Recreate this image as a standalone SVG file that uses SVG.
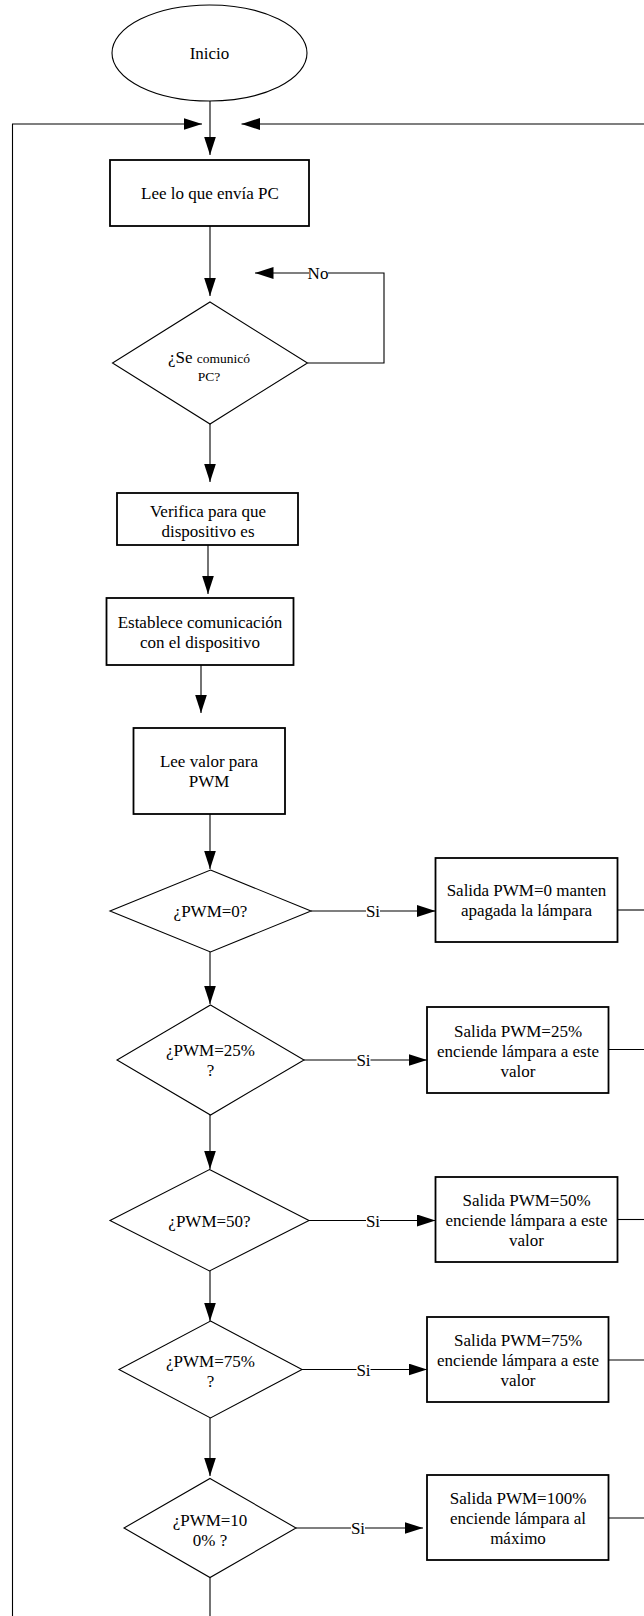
<svg xmlns="http://www.w3.org/2000/svg" width="644" height="1616" viewBox="0 0 644 1616">
<style>
  text { font-family: "Liberation Serif", "Times New Roman", serif; font-size: 17px; fill: #000; text-anchor: middle; }
  .box { fill: #fff; stroke: #000; stroke-width: 1.8; }
  .dia { fill: #fff; stroke: #000; stroke-width: 1.1; }
  .ln { fill: none; stroke: #000; stroke-width: 1.1; }
  .arr { fill: none; stroke: #000; stroke-width: 1.1; marker-end: url(#ah); }
  .lblbg { fill: #fff; stroke: none; }
  .sm { font-size: 13.5px; }
</style>
<defs>
  <marker id="ah" markerUnits="userSpaceOnUse" markerWidth="19" markerHeight="12" refX="18.5" refY="6" orient="auto">
    <path d="M0,0 L18.5,6 L0,12 Z" fill="#000"/>
  </marker>
</defs>
<rect width="644" height="1616" fill="#fff"/>

<g id="connectors">
  <line class="arr" x1="210" y1="101" x2="210" y2="155"/>
  <polyline class="arr" points="12.5,1616 12.5,124 202,124"/>
  <line class="arr" x1="644" y1="124" x2="241.5" y2="124"/>
  <line class="arr" x1="210" y1="226" x2="210" y2="296"/>
  <polyline class="arr" points="307.5,363 384,363 384,273 255,273"/>
  <rect class="lblbg" x="309" y="266" width="19" height="14"/>
  <text x="318" y="279">No</text>
  <line class="arr" x1="210" y1="424" x2="210" y2="482"/>
  <line class="arr" x1="208" y1="545" x2="208" y2="594"/>
  <line class="arr" x1="201" y1="665" x2="201" y2="713"/>
  <line class="arr" x1="210" y1="814" x2="210" y2="869"/>
  <line class="arr" x1="210" y1="952" x2="210" y2="1004"/>
  <line class="arr" x1="210" y1="1115" x2="210" y2="1169"/>
  <line class="arr" x1="210" y1="1271" x2="210" y2="1321"/>
  <line class="arr" x1="210" y1="1418" x2="210" y2="1476"/>
  <line class="ln" x1="210" y1="1577.5" x2="210" y2="1616"/>

  <line class="arr" x1="311" y1="911" x2="435.5" y2="911"/>
  <rect class="lblbg" x="366" y="904" width="14" height="14"/>
  <text x="373" y="917">Si</text>
  <line class="arr" x1="304" y1="1060" x2="427" y2="1060"/>
  <rect class="lblbg" x="356.5" y="1053" width="14" height="14"/>
  <text x="363.5" y="1066">Si</text>
  <line class="arr" x1="309" y1="1220.5" x2="435.5" y2="1220.5"/>
  <rect class="lblbg" x="366" y="1213.5" width="14" height="14"/>
  <text x="373" y="1226.5">Si</text>
  <line class="arr" x1="302" y1="1369.5" x2="427" y2="1369.5"/>
  <rect class="lblbg" x="356.5" y="1362.5" width="14" height="14"/>
  <text x="363.5" y="1375.5">Si</text>
  <line class="arr" x1="296" y1="1528" x2="423" y2="1528"/>
  <rect class="lblbg" x="351" y="1521" width="14" height="14"/>
  <text x="358" y="1534">Si</text>

  <line class="ln" x1="617.5" y1="910" x2="644" y2="910"/>
  <line class="ln" x1="608.5" y1="1049.5" x2="644" y2="1049.5"/>
  <line class="ln" x1="617.5" y1="1219.5" x2="644" y2="1219.5"/>
  <line class="ln" x1="608.5" y1="1360" x2="644" y2="1360"/>
  <line class="ln" x1="608.5" y1="1518" x2="644" y2="1518"/>
</g>

<g id="inicio">
  <ellipse class="dia" cx="209.5" cy="53" rx="97.5" ry="48"/>
  <text x="209.5" y="59">Inicio</text>
</g>

<g id="lee-pc">
  <rect class="box" x="110" y="160" width="199" height="66"/>
  <text x="210" y="199">Lee lo que envía PC</text>
</g>

<g id="se-comunico">
  <polygon class="dia" points="210,302 307.5,363 210,424 112.5,363"/>
  <text x="209" y="363">¿Se <tspan class="sm">comunicó</tspan></text>
  <text class="sm" x="209" y="381">PC?</text>
</g>

<g id="verifica">
  <rect class="box" x="117" y="493" width="181" height="52"/>
  <text x="208" y="516.5">Verifica para que</text>
  <text x="208" y="536.5">dispositivo es</text>
</g>

<g id="establece">
  <rect class="box" x="106.5" y="598" width="187" height="67"/>
  <text x="200" y="627.5">Establece comunicación</text>
  <text x="200" y="647.5">con el dispositivo</text>
</g>

<g id="lee-valor">
  <rect class="box" x="133.5" y="728" width="151.5" height="86"/>
  <text x="209" y="767">Lee valor para</text>
  <text x="209" y="787">PWM</text>
</g>

<g id="pwm0">
  <polygon class="dia" points="210.5,870 311,911 210.5,952 110,911"/>
  <text x="210.5" y="917">¿PWM=0?</text>
</g>
<g id="salida0">
  <rect class="box" x="435.5" y="858" width="182" height="84"/>
  <text x="526.5" y="896">Salida PWM=0 manten</text>
  <text x="526.5" y="916">apagada la lámpara</text>
</g>

<g id="pwm25">
  <polygon class="dia" points="210.5,1005 304,1060 210.5,1115 117,1060"/>
  <text x="210.5" y="1056">¿PWM=25%</text>
  <text x="210.5" y="1076">?</text>
</g>
<g id="salida25">
  <rect class="box" x="427" y="1007" width="181.5" height="86"/>
  <text x="518" y="1037">Salida PWM=25%</text>
  <text x="518" y="1057">enciende lámpara a este</text>
  <text x="518" y="1077">valor</text>
</g>

<g id="pwm50">
  <polygon class="dia" points="209.5,1169.5 309,1220.5 209.5,1271 110,1220.5"/>
  <text x="209.5" y="1226.5">¿PWM=50?</text>
</g>
<g id="salida50">
  <rect class="box" x="435.5" y="1177" width="182" height="85"/>
  <text x="526.5" y="1205.5">Salida PWM=50%</text>
  <text x="526.5" y="1225.5">enciende lámpara a este</text>
  <text x="526.5" y="1245.5">valor</text>
</g>

<g id="pwm75">
  <polygon class="dia" points="210.5,1321 302,1369.5 210.5,1418 119,1369.5"/>
  <text x="210.5" y="1366.5">¿PWM=75%</text>
  <text x="210.5" y="1387">?</text>
</g>
<g id="salida75">
  <rect class="box" x="427" y="1317" width="181.5" height="85"/>
  <text x="518" y="1345.5">Salida PWM=75%</text>
  <text x="518" y="1365.5">enciende lámpara a este</text>
  <text x="518" y="1385.5">valor</text>
</g>

<g id="pwm100">
  <polygon class="dia" points="210,1478.5 296,1528 210,1577.5 124,1528"/>
  <text x="210" y="1526">¿PWM=10</text>
  <text x="210" y="1546">0% ?</text>
</g>
<g id="salida100">
  <rect class="box" x="427" y="1475" width="181.5" height="85"/>
  <text x="518" y="1503.5">Salida PWM=100%</text>
  <text x="518" y="1523.5">enciende lámpara al</text>
  <text x="518" y="1543.5">máximo</text>
</g>
</svg>
